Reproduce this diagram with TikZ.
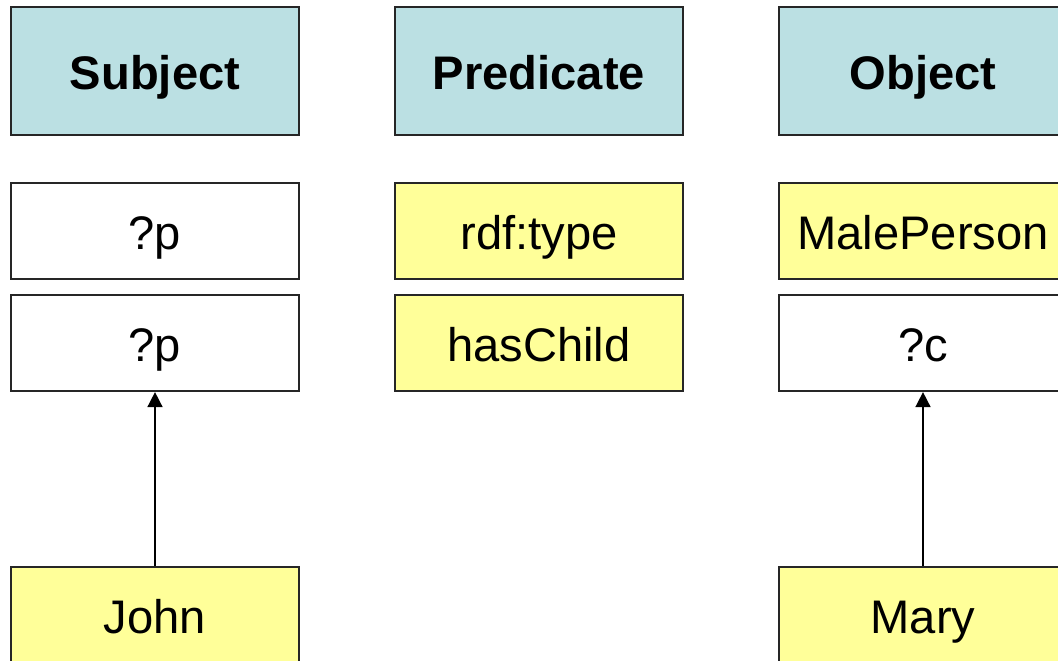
\documentclass[tikz,border=0pt]{standalone}
\usepackage{fontspec}
\setmainfont{Liberation Sans}
\usetikzlibrary{arrows.meta,positioning}

\definecolor{headblue}{HTML}{BBE0E3}
\definecolor{constyellow}{HTML}{FFFF99}

\tikzset{
    cell/.style={draw=black!85, line width=0.6pt, minimum width=2.88cm,
        minimum height=0.96cm, inner sep=0pt, text height=0.37cm, text depth=0.01cm,
        font=\fontsize{13.4}{16}\selectfont},
    head/.style={cell, fill=headblue, minimum height=1.28cm,
        font=\fontsize{13.4}{16}\selectfont\bfseries},
    var/.style={cell, fill=white},
    const/.style={cell, fill=constyellow},
    bind/.style={line width=0.45pt, -{Triangle[length=0.15cm, width=0.15cm]}}
}

\begin{document}
\begin{tikzpicture}[x=0.01cm, y=-0.01cm]
            \clip (0,0) rectangle (1058,660);
            \fill[white] (0,0) rectangle (1058,660);

            % Spaltenköpfe
            \node[head] (subj) at (155,71) {Subject};
            \node[head] (pred) at (539,71) {Predicate};
            \node[head] (obj) at (923,71) {Object};

            % erstes Muster
            \node[var] (s1) at (155,231) {?p};
            \node[const] (p1) at (539,231) {rdf:type};
            \node[const] (o1) at (923,231) {MalePerson};

            % zweites Muster
            \node[var] (s2) at (155,343) {?p};
            \node[const] (p2) at (539,343) {hasChild};
            \node[var] (o2) at (923,343) {?c};

            % Bindungen
            \node[const] (john) at (155,615) {John};
            \node[const] (mary) at (923,615) {Mary};

            \draw[bind] (john) -- (s2);
            \draw[bind] (mary) -- (o2);
        \end{tikzpicture}
\end{document}
